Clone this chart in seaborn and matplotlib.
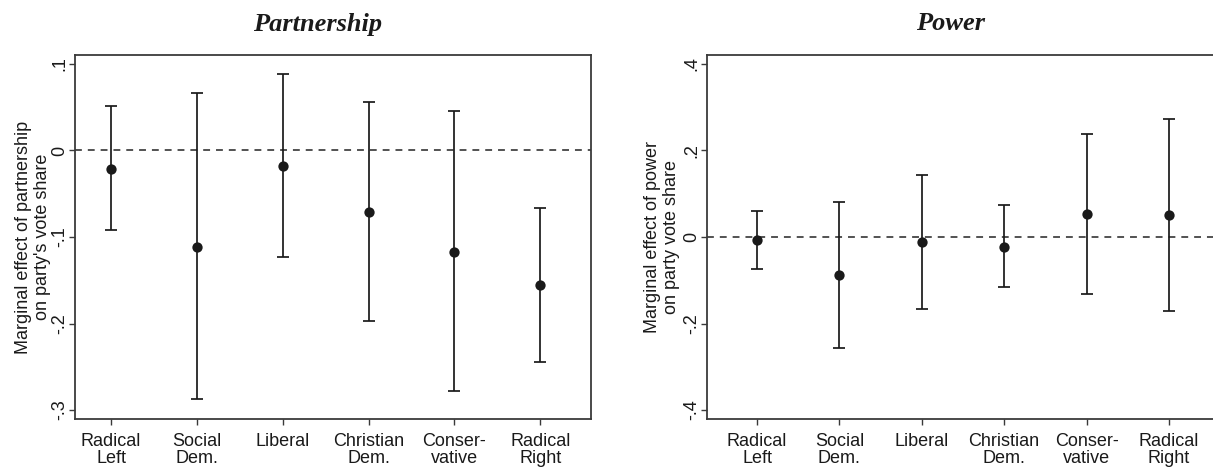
import numpy as np
import pandas as pd
import matplotlib
matplotlib.use("Agg")
import matplotlib.pyplot as plt
import seaborn as sns

# ---- data ----
categories = ["Radical\nLeft", "Social\nDem.", "Liberal", "Christian\nDem.", "Conser-\nvative", "Radical\nRight"]

partner_est = [-0.021, -0.111, -0.018, -0.071, -0.117, -0.156]
partner_lo = [-0.092, -0.287, -0.123, -0.197, -0.278, -0.245]
partner_hi = [0.051, 0.066, 0.088, 0.056, 0.046, -0.066]

power_est = [-0.006, -0.088, -0.012, -0.022, 0.053, 0.051]
power_lo = [-0.073, -0.256, -0.166, -0.115, -0.132, -0.171]
power_hi = [0.061, 0.081, 0.144, 0.073, 0.237, 0.272]

partner_ticks = [0.1, 0.0, -0.1, -0.2, -0.3]
partner_ticklabels = [".1", "0", "-.1", "-.2", "-.3"]
power_ticks = [0.4, 0.2, 0.0, -0.2, -0.4]
power_ticklabels = [".4", ".2", "0", "-.2", "-.4"]

titles = ["Partnership", "Power"]
ylabels = ["Marginal effect of partnership\non party's vote share",
           "Marginal effect of power\non party vote share"]

# ---- style ----
sns.set_theme(style="white")
plt.rcParams["font.family"] = ["Liberation Sans", "DejaVu Sans"]

W, H = 1213, 470
fig = plt.figure(figsize=(W / 100, H / 100), dpi=100)

ink = "#1a1a1a"
frame = "#3a3a3a"

def panel(rect, est, lo, hi, ticks, ticklabels, ylim, xlim, ylabel, labx):
    ax = fig.add_axes(rect)
    df = pd.DataFrame({"cat": categories, "est": est, "lo": lo, "hi": hi})
    x = np.arange(len(categories))
    ax.axhline(0, color="#444444", lw=1.3, ls=(0, (3.8, 3.3)), zorder=1)
    ax.errorbar(x, df["est"], yerr=[df["est"] - df["lo"], df["hi"] - df["est"]],
                fmt="none", ecolor=ink, elinewidth=1.25, capsize=4.0, capthick=1.25, zorder=2)
    sns.scatterplot(data=df, x="cat", y="est", ax=ax, color=ink, s=55,
                    edgecolor=ink, linewidth=0, zorder=3, legend=False)
    ax.set_xlim(*xlim)
    ax.set_ylim(*ylim)
    ax.set_xticks(x)
    ax.set_xticklabels(categories, fontsize=13, color=ink, linespacing=1.05)
    ax.set_yticks(ticks)
    ax.set_yticklabels(ticklabels, fontsize=13, color=ink, rotation=90, va="center")
    ax.set_xlabel("")
    ax.set_ylabel(ylabel, fontsize=13, color=ink, linespacing=1.15)
    ax.yaxis.set_label_coords(labx, 0.5)
    ax.tick_params(axis="x", which="major", length=4.3, width=1.0, color=frame,
                   bottom=True, pad=5.5)
    ax.tick_params(axis="y", which="major", length=4.3, width=1.0, color=frame,
                   left=True, pad=0.5)
    for s in ax.spines.values():
        s.set_color(frame)
        s.set_linewidth(1.3)
    return ax

ax1 = panel([75 / W, 1 - 419 / H, 516 / W, 364 / H], partner_est, partner_lo, partner_hi,
            partner_ticks, partner_ticklabels, (-0.3104, 0.1104), (-0.42, 5.59), ylabels[0],
            (51 - 75) / 516)
ax2 = panel([707 / W, 1 - 419 / H, 508 / W, 364 / H], power_est, power_lo, power_hi,
            power_ticks, power_ticklabels, (-0.4208, 0.4208), (-0.608, 5.56), ylabels[1],
            (680 - 707) / 508)

fig.text(318 / W, 1 - 24 / H, titles[0], family=["Liberation Serif", "DejaVu Serif"],
         weight="bold", style="italic", fontsize=19, ha="center", va="center", color=ink)
fig.text(951 / W, 1 - 24 / H, titles[1], family=["Liberation Serif", "DejaVu Serif"],
         weight="bold", style="italic", fontsize=19, ha="center", va="center", color=ink)

fig.savefig("out.png", dpi=100)
